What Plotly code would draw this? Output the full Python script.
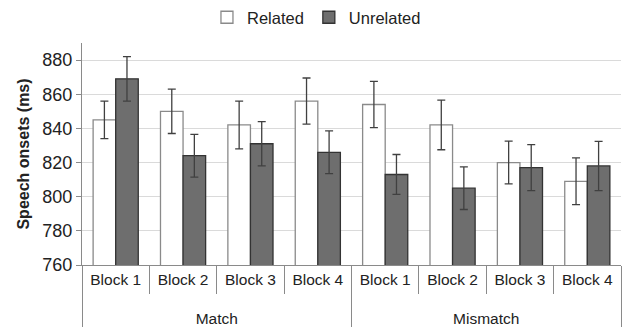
import plotly.graph_objects as go

conditions = ["<br>Match"] * 4 + ["<br>Mismatch"] * 4
blocks = ["Block 1", "Block 2", "Block 3", "Block 4"] * 2

related = [845, 850, 842, 856, 854, 842, 820, 809]
related_err = [11, 13, 14, 13.5, 13.5, 14.5, 12.5, 13.7]
unrelated = [869, 824, 831, 826, 813, 805, 817, 818]
unrelated_err = [13, 12.5, 13, 12.5, 11.7, 12.5, 13.5, 14.4]

x = [conditions, blocks]
err_style = dict(type="data", thickness=1.3, width=4, color="#404040")

fig = go.Figure()
fig.add_trace(go.Bar(
    name="Related", x=x, y=related,
    error_y=dict(array=related_err, **err_style),
    marker=dict(color="white", line=dict(color="#8a8a8a", width=1.3)),
))
fig.add_trace(go.Bar(
    name="Unrelated", x=x, y=unrelated,
    error_y=dict(array=unrelated_err, **err_style),
    marker=dict(color="#6e6e6e", line=dict(color="#333333", width=1.3)),
))

fig.update_layout(
    width=625, height=328,
    margin=dict(l=82, r=4, t=43, b=63, autoexpand=False),
    paper_bgcolor="white", plot_bgcolor="white",
    barmode="group", bargap=0.33, bargroupgap=0,
    font=dict(family="Liberation Sans, Arial, sans-serif", size=15, color="#222"),
    legend=dict(orientation="h", x=0.435, xanchor="center", y=1.0, yanchor="top",
                yref="container", font=dict(size=16.5), itemwidth=30,
                tracegroupgap=0),
    showlegend=True,
)
fig.update_yaxes(
    range=[760, 890], tickvals=[760, 780, 800, 820, 840, 860, 880],
    automargin=False,
    showgrid=True, gridcolor="#dadada", gridwidth=1,
    showline=True, linecolor="#8a8a8a", linewidth=1,
    ticks="outside", ticklen=5, tickcolor="#8a8a8a",
    tickfont=dict(size=18),
    title=dict(text="<b>Speech onsets (ms)</b>", font=dict(size=16), standoff=8),
    zeroline=False,
)
fig.update_xaxes(
    type="multicategory", automargin=False,
    showline=True, linecolor="#8a8a8a", linewidth=1,
    ticks="outside", tickson="boundaries", ticklen=28, tickcolor="#8a8a8a",
    showdividers=True, dividercolor="#8a8a8a", dividerwidth=1,
    tickfont=dict(size=15.5),
)

fig.write_html(
    "out.html",
    config={"displayModeBar": False},
    post_script="document.body.style.margin='0';document.body.style.padding='0';",
)
